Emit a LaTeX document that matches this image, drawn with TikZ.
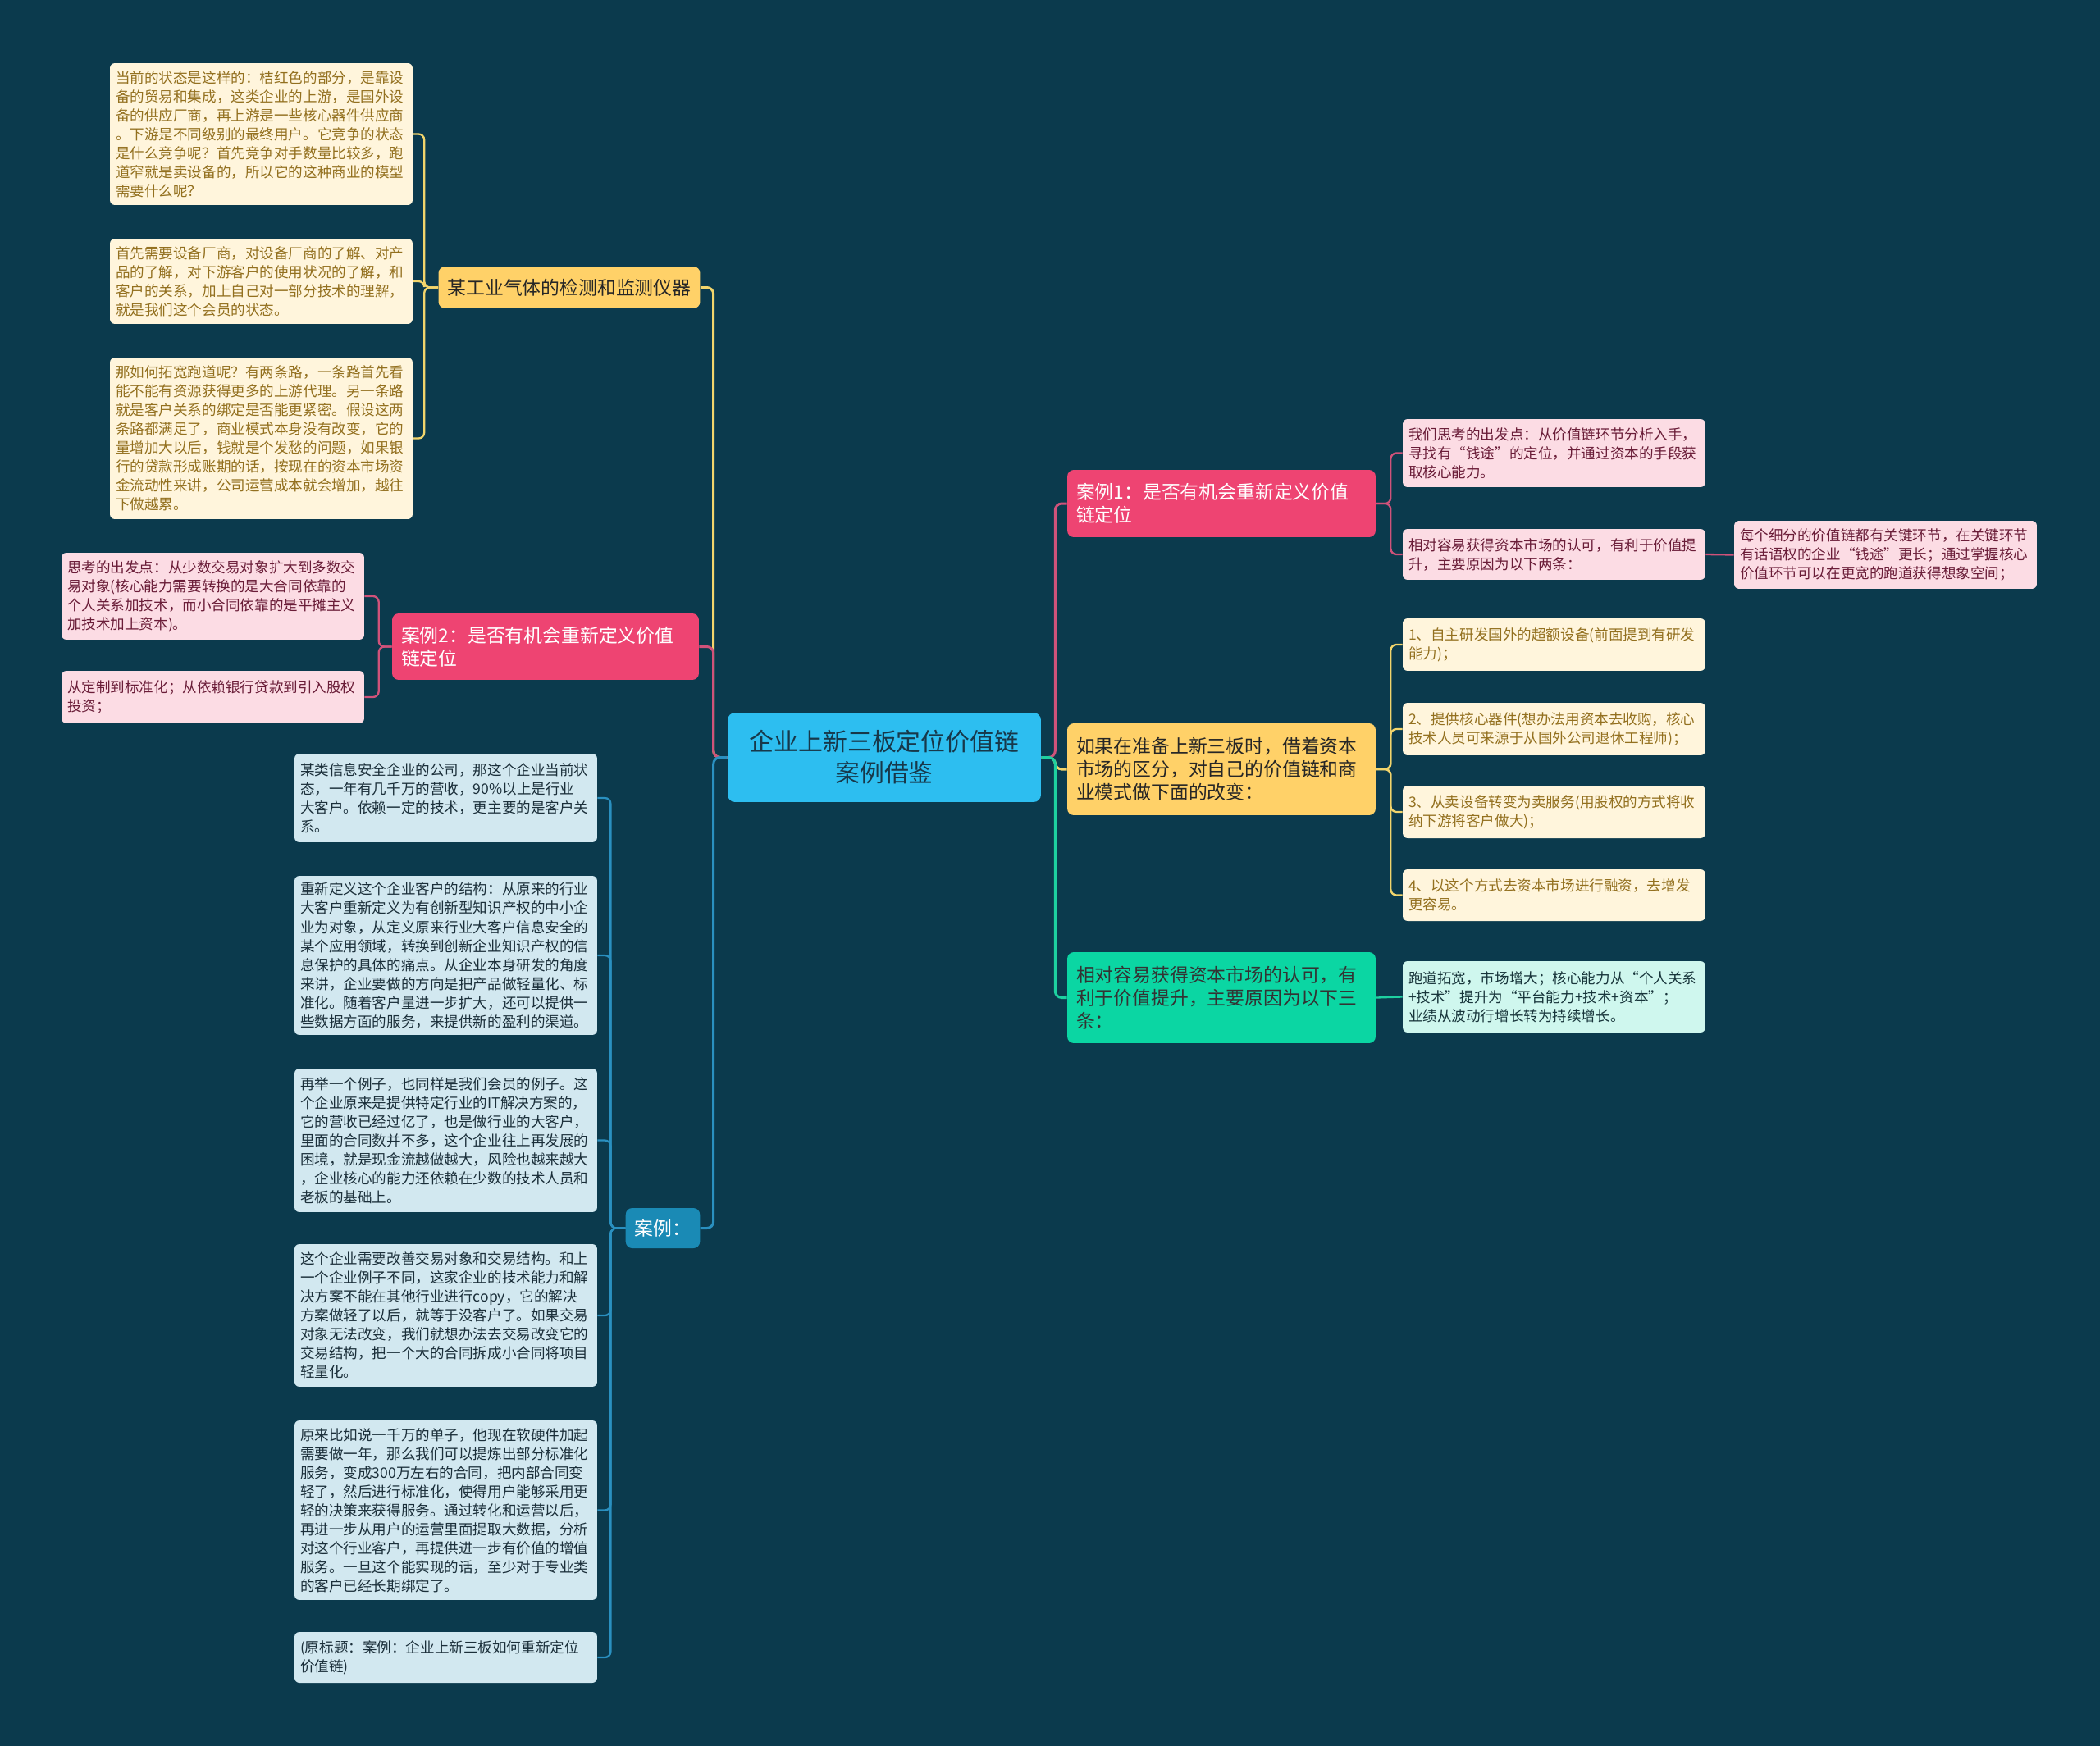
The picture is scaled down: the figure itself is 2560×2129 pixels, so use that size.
\documentclass[tikz,border=0pt]{standalone}
\usepackage{fontspec}
\setmainfont{Noto Sans CJK SC}
\usepackage{tikz}
\definecolor{mapbg}{HTML}{0B3A4D}
\definecolor{rootfill}{HTML}{2DBEF0}
\definecolor{roottext}{HTML}{17384A}
\definecolor{pinkfill}{HTML}{EE4472}
\definecolor{pinkleaf}{HTML}{FCDCE4}
\definecolor{pinktext}{HTML}{6A1D38}
\definecolor{pinkline}{HTML}{D0527A}
\definecolor{ylwfill}{HTML}{FFD168}
\definecolor{ylwleaf}{HTML}{FFF5DC}
\definecolor{ylwtext}{HTML}{93701F}
\definecolor{ylwline}{HTML}{F2D56C}
\definecolor{bluefill}{HTML}{1A8AB5}
\definecolor{blueleaf}{HTML}{D2E8F0}
\definecolor{bluetext}{HTML}{1B2F3A}
\definecolor{blueline}{HTML}{2A90C0}
\definecolor{grnfill}{HTML}{0BD6A3}
\definecolor{grnleaf}{HTML}{CFF7EE}
\definecolor{grntext}{HTML}{18353B}
\definecolor{grnline}{HTML}{1ED0A0}
\newcommand{\leaffont}{\fontsize{10pt}{13.1pt}\selectfont}
\newcommand{\topicfont}{\fontsize{13pt}{16pt}\selectfont}
\newcommand{\rootfont}{\fontsize{17pt}{21.6pt}\selectfont}

\begin{document}
\begin{tikzpicture}[x=0.02cm, y=-0.02cm,
    rootbox/.style={fill=rootfill, text=roottext, rounded corners=0.18cm,
                    minimum width=7.64cm, minimum height=2.18cm,
                    font=\rootfont, align=center},
    topic/.style={rounded corners=0.16cm, inner xsep=0.22cm, inner ysep=0.18cm,
                  font=\topicfont, align=left},
    leaf/.style={rounded corners=0.12cm, inner xsep=0.14cm, inner ysep=0.16cm,
                 text width=7.1cm, font=\leaffont, align=left},
    leafy/.style={leaf, fill=ylwleaf, text=ylwtext},
    leafp/.style={leaf, fill=pinkleaf, text=pinktext},
    leafb/.style={leaf, fill=blueleaf, text=bluetext},
    leafg/.style={leaf, fill=grnleaf, text=grntext},
    link/.style={line width=0.06cm, rounded corners=0.16cm},
    sublink/.style={line width=0.046cm, rounded corners=0.14cm}
  ]
  \fill[mapbg] (0,0) rectangle (2560,2129);

  % centre
  \node[rootbox] (root) at (1078,923.5) {企业上新三板定位价值链\\案例借鉴};

  % left side
  \node[topic, fill=ylwfill, text=black!85, minimum width=6.32cm, minimum height=1.02cm]
    (ind) at (694,350.5) {某工业气体的检测和监测仪器};
  \node[leafy, minimum height=3.46cm] (l1) at (318.5,163.5)
    {当前的状态是这样的：桔红色的部分，是靠设\\备的贸易和集成，这类企业的上游，是国外设\\备的供应厂商，再上游是一些核心器件供应商\\。下游是不同级别的最终用户。它竞争的状态\\是什么竞争呢？首先竞争对手数量比较多，跑\\道窄就是卖设备的，所以它的这种商业的模型\\需要什么呢？};
  \node[leafy, minimum height=2.08cm] (l2) at (318.5,343)
    {首先需要设备厂商，对设备厂商的了解、对产\\品的了解，对下游客户的使用状况的了解，和\\客户的关系，加上自己对一部分技术的理解，\\就是我们这个会员的状态。};
  \node[leafy, minimum height=3.94cm] (l3) at (318.5,534.5)
    {那如何拓宽跑道呢？有两条路，一条路首先看\\能不能有资源获得更多的上游代理。另一条路\\就是客户关系的绑定是否能更紧密。假设这两\\条路都满足了，商业模式本身没有改变，它的\\量增加大以后，钱就是个发愁的问题，如果银\\行的贷款形成账期的话，按现在的资本市场资\\金流动性来讲，公司运营成本就会增加，越往\\下做越累。};

  \node[topic, fill=pinkfill, text=white, text width=7.04cm, minimum height=1.62cm]
    (c2) at (665,788.5) {案例2：是否有机会重新定义价值\\链定位};
  \node[leafp, minimum height=2.12cm] (p1) at (259.5,727)
    {思考的出发点：从少数交易对象扩大到多数交\\易对象(核心能力需要转换的是大合同依靠的\\个人关系加技术，而小合同依靠的是平摊主义\\加技术加上资本)。};
  \node[leafp, minimum height=1.28cm] (p2) at (259.5,850)
    {从定制到标准化；从依赖银行贷款到引入股权\\投资；};

  \node[topic, fill=bluefill, text=white, minimum width=1.76cm, minimum height=0.98cm]
    (ex) at (808,1497.5) {案例：};
  \node[leafb, minimum height=2.16cm] (b1) at (543.5,973)
    {某类信息安全企业的公司，那这个企业当前状\\态，一年有几千万的营收，90\%以上是行业\\大客户。依赖一定的技术，更主要的是客户关\\系。};
  \node[leafb, minimum height=3.88cm] (b2) at (543.5,1165)
    {重新定义这个企业客户的结构：从原来的行业\\大客户重新定义为有创新型知识产权的中小企\\业为对象，从定义原来行业大客户信息安全的\\某个应用领域，转换到创新企业知识产权的信\\息保护的具体的痛点。从企业本身研发的角度\\来讲，企业要做的方向是把产品做轻量化、标\\准化。随着客户量进一步扩大，还可以提供一\\些数据方面的服务，来提供新的盈利的渠道。};
  \node[leafb, minimum height=3.5cm] (b3) at (543.5,1390.5)
    {再举一个例子，也同样是我们会员的例子。这\\个企业原来是提供特定行业的IT解决方案的，\\它的营收已经过亿了，也是做行业的大客户，\\里面的合同数并不多，这个企业往上再发展的\\困境，就是现金流越做越大，风险也越来越大\\，企业核心的能力还依赖在少数的技术人员和\\老板的基础上。};
  \node[leafb, minimum height=3.48cm] (b4) at (543.5,1604)
    {这个企业需要改善交易对象和交易结构。和上\\一个企业例子不同，这家企业的技术能力和解\\决方案不能在其他行业进行copy，它的解决\\方案做轻了以后，就等于没客户了。如果交易\\对象无法改变，我们就想办法去交易改变它的\\交易结构，把一个大的合同拆成小合同将项目\\轻量化。};
  \node[leafb, minimum height=4.38cm] (b5) at (543.5,1841.5)
    {原来比如说一千万的单子，他现在软硬件加起\\需要做一年，那么我们可以提炼出部分标准化\\服务，变成300万左右的合同，把内部合同变\\轻了，然后进行标准化，使得用户能够采用更\\轻的决策来获得服务。通过转化和运营以后，\\再进一步从用户的运营里面提取大数据，分析\\对这个行业客户，再提供进一步有价值的增值\\服务。一旦这个能实现的话，至少对于专业类\\的客户已经长期绑定了。};
  \node[leafb, minimum height=1.24cm] (b6) at (543.5,2021)
    {(原标题：案例：企业上新三板如何重新定位\\价值链)};

  % right side
  \node[topic, fill=pinkfill, text=white, text width=7.08cm, minimum height=1.64cm]
    (c1) at (1489,614) {案例1：是否有机会重新定义价值\\链定位};
  \node[leafp, minimum height=1.66cm] (r1a) at (1894.5,552.5)
    {我们思考的出发点：从价值链环节分析入手，\\寻找有“钱途”的定位，并通过资本的手段获\\取核心能力。};
  \node[leafp, minimum height=1.24cm] (r1b) at (1894.5,676)
    {相对容易获得资本市场的认可，有利于价值提\\升，主要原因为以下两条：};
  \node[leafp, minimum height=1.66cm] (r1c) at (2298.5,676.5)
    {每个细分的价值链都有关键环节，在关键环节\\有话语权的企业“钱途”更长；通过掌握核心\\价值环节可以在更宽的跑道获得想象空间；};

  \node[topic, fill=ylwfill, text=black!85, text width=7.08cm, minimum height=2.24cm]
    (prep) at (1489,938) {如果在准备上新三板时，借着资本\\市场的区分，对自己的价值链和商\\业模式做下面的改变：};
  \node[leafy, minimum height=1.28cm] (y1) at (1894.5,786)
    {1、自主研发国外的超额设备(前面提到有研发\\能力)；};
  \node[leafy, minimum height=1.28cm] (y2) at (1894.5,889)
    {2、提供核心器件(想办法用资本去收购，核心\\技术人员可来源于从国外公司退休工程师)；};
  \node[leafy, minimum height=1.28cm] (y3) at (1894.5,990)
    {3、从卖设备转变为卖服务(用股权的方式将收\\纳下游将客户做大)；};
  \node[leafy, minimum height=1.26cm] (y4) at (1894.5,1091.5)
    {4、以这个方式去资本市场进行融资，去增发\\更容易。};

  \node[topic, fill=grnfill, text=black!80, text width=7.08cm, minimum height=2.22cm]
    (easy) at (1489,1216.5) {相对容易获得资本市场的认可，有\\利于价值提升，主要原因为以下三\\条：};
  \node[leafg, minimum height=1.74cm] (g1) at (1894.5,1215.5)
    {跑道拓宽，市场增大；核心能力从“个人关系\\+技术”提升为“平台能力+技术+资本”；\\业绩从波动行增长转为持续增长。};

  % branches from the centre
  \draw[link, draw=ylwline] (root.west) -- ++(-17,0) |- (ind.east);
  \draw[link, draw=pinkline] (root.west) -- ++(-17,0) |- (c2.east);
  \draw[link, draw=blueline] (root.west) -- ++(-17,0) |- (ex.east);
  \draw[link, draw=ylwline] (root.east) -- ++(17,0) |- (prep.west);
  \draw[link, draw=pinkline] (root.east) -- ++(17,0) |- (c1.west);
  \draw[link, draw=grnline] (root.east) -- ++(17,0) |- (easy.west);

  % leaves
  \foreach \n in {l1,l2,l3}
    \draw[sublink, draw=ylwline] (ind.west) -- ++(-17,0) |- (\n.east);
  \foreach \n in {p1,p2}
    \draw[sublink, draw=pinkline] (c2.west) -- ++(-16,0) |- (\n.east);
  \foreach \n in {b1,b2,b3,b4,b5,b6}
    \draw[sublink, draw=blueline] (ex.west) -- ++(-18,0) |- (\n.east);
  \foreach \n in {r1a,r1b}
    \draw[sublink, draw=pinkline] (c1.east) -- ++(18,0) |- (\n.west);
  \draw[sublink, draw=pinkline] (r1b.east) -- (r1c.west);
  \foreach \n in {y1,y2,y3,y4}
    \draw[sublink, draw=ylwline] (prep.east) -- ++(18,0) |- (\n.west);
  \draw[sublink, draw=grnline] (easy.east) -- (g1.west);
\end{tikzpicture}
\end{document}
